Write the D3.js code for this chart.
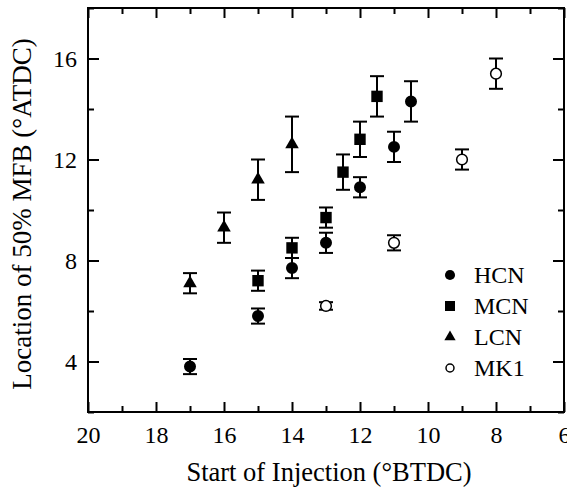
<!DOCTYPE html>
<html>
<head>
<meta charset="utf-8">
<script src="https://cdn.jsdelivr.net/npm/d3@7"></script>
<style>
  body { margin: 0; background: #fff; }
  text { font-family: "Liberation Serif", "Times New Roman", serif; fill: #000; }
</style>
</head>
<body>
<script>
// data: start of injection (°BTDC) vs 50% MFB location (°ATDC)
const hcnX = [17, 15, 14, 13, 12, 11, 10.5];
const hcnY = [3.8, 5.8, 7.7, 8.7, 10.9, 12.5, 14.3];
const hcnErr = [0.3, 0.3, 0.4, 0.4, 0.4, 0.6, 0.8];

const mcnX = [15, 14, 13, 12.5, 12, 11.5];
const mcnY = [7.2, 8.5, 9.7, 11.5, 12.8, 14.5];
const mcnErr = [0.4, 0.4, 0.4, 0.7, 0.7, 0.8];

const lcnX = [17, 16, 15, 14];
const lcnY = [7.1, 9.3, 11.2, 12.6];
const lcnErr = [0.4, 0.6, 0.8, 1.1];

const mk1X = [13, 11, 9, 8];
const mk1Y = [6.2, 8.7, 12.0, 15.4];
const mk1Err = [0.15, 0.3, 0.4, 0.6];

const seriesNames = ['HCN', 'MCN', 'LCN', 'MK1'];
const xMajor = [20, 18, 16, 14, 12, 10, 8, 6];
const xMinor = [19, 17, 15, 13, 11, 9, 7];
const yMajor = [4, 8, 12, 16];
const yMinor = [2, 6, 10, 14, 18];

const width = 567, height = 491;
const margin = { top: 8, right: 3, bottom: 79, left: 88 };

const svg = d3.select('body').append('svg')
  .attr('width', width).attr('height', height);

const x = d3.scaleLinear().domain([20, 6]).range([margin.left, width - margin.right]);
const y = d3.scaleLinear().domain([2, 18]).range([height - margin.bottom, margin.top]);

const x0 = x.range()[0], x1 = x.range()[1];
const y0 = y.range()[0], y1 = y.range()[1];

function styleAxis(g) {
  g.select('.domain').remove();
  g.selectAll('line').attr('stroke', '#000').attr('stroke-width', 2);
  g.selectAll('text').style('font-size', '24px').attr('fill', '#000');
}

// bottom
svg.append('g').attr('transform', `translate(0,${y0})`)
  .call(d3.axisBottom(x).tickValues(xMajor).tickSize(-10).tickPadding(14).tickFormat(d3.format('d')))
  .call(styleAxis);
svg.append('g').attr('transform', `translate(0,${y0})`)
  .call(d3.axisBottom(x).tickValues(xMinor).tickSize(-6).tickFormat(''))
  .call(styleAxis);
// top
svg.append('g').attr('transform', `translate(0,${y1})`)
  .call(d3.axisTop(x).tickValues(xMajor).tickSize(-10).tickFormat(''))
  .call(styleAxis);
svg.append('g').attr('transform', `translate(0,${y1})`)
  .call(d3.axisTop(x).tickValues(xMinor).tickSize(-6).tickFormat(''))
  .call(styleAxis);
// left
svg.append('g').attr('transform', `translate(${x0},0)`)
  .call(d3.axisLeft(y).tickValues(yMajor).tickSize(-11).tickPadding(11).tickFormat(d3.format('d')))
  .call(styleAxis);
svg.append('g').attr('transform', `translate(${x0},0)`)
  .call(d3.axisLeft(y).tickValues(yMinor).tickSize(-6).tickFormat(''))
  .call(styleAxis);
// right
svg.append('g').attr('transform', `translate(${x1},0)`)
  .call(d3.axisRight(y).tickValues(yMajor).tickSize(-11).tickFormat(''))
  .call(styleAxis);
svg.append('g').attr('transform', `translate(${x1},0)`)
  .call(d3.axisRight(y).tickValues(yMinor).tickSize(-6).tickFormat(''))
  .call(styleAxis);

// frame
svg.append('rect')
  .attr('x', x0).attr('y', y1)
  .attr('width', x1 - x0).attr('height', y0 - y1)
  .attr('fill', 'none').attr('stroke', '#000').attr('stroke-width', 2);

// axis titles
svg.append('text')
  .attr('x', 329).attr('y', 481)
  .attr('text-anchor', 'middle')
  .style('font-size', '26.5px')
  .text('Start of Injection (°BTDC)');

svg.append('text')
  .attr('transform', 'translate(31,214) rotate(-90)')
  .attr('text-anchor', 'middle')
  .style('font-size', '27px')
  .text('Location of 50% MFB (°ATDC)');

function zip(xs, ys, es) {
  return xs.map((d, i) => ({ x: d, y: ys[i], e: es[i] }));
}

const series = [
  { name: 'HCN', data: zip(hcnX, hcnY, hcnErr), type: d3.symbolCircle, size: 113, legendSize: 80, fill: '#000' },
  { name: 'MCN', data: zip(mcnX, mcnY, mcnErr), type: d3.symbolSquare, size: 130, legendSize: 100, fill: '#000' },
  { name: 'LCN', data: zip(lcnX, lcnY, lcnErr), type: d3.symbolTriangle, size: 80, legendSize: 55, fill: '#000' },
  { name: 'MK1', data: zip(mk1X, mk1Y, mk1Err), type: d3.symbolCircle, size: 90, legendSize: 50, fill: '#fff' },
];

const cap = 7;
series.forEach((s) => {
  const g = svg.append('g');
  const pts = g.selectAll('g').data(s.data).enter().append('g');
  // error bars
  pts.append('line')
    .attr('x1', (d) => x(d.x)).attr('x2', (d) => x(d.x))
    .attr('y1', (d) => y(d.y - d.e)).attr('y2', (d) => y(d.y + d.e))
    .attr('stroke', '#000').attr('stroke-width', 2);
  pts.append('line')
    .attr('x1', (d) => x(d.x) - cap).attr('x2', (d) => x(d.x) + cap)
    .attr('y1', (d) => y(d.y + d.e)).attr('y2', (d) => y(d.y + d.e))
    .attr('stroke', '#000').attr('stroke-width', 2);
  pts.append('line')
    .attr('x1', (d) => x(d.x) - cap).attr('x2', (d) => x(d.x) + cap)
    .attr('y1', (d) => y(d.y - d.e)).attr('y2', (d) => y(d.y - d.e))
    .attr('stroke', '#000').attr('stroke-width', 2);
  pts.append('path')
    .attr('d', d3.symbol().type(s.type).size(s.size))
    .attr('transform', (d) => `translate(${x(d.x)},${y(d.y)})`)
    .attr('fill', s.fill)
    .attr('stroke', '#000')
    .attr('stroke-width', s.fill === '#fff' ? 1.5 : 0);
});

// legend
const legend = svg.append('g').attr('transform', 'translate(450,275)');
series.forEach((s, i) => {
  const row = legend.append('g').attr('transform', `translate(0,${i * 31})`);
  row.append('path')
    .attr('d', d3.symbol().type(s.type).size(s.legendSize))
    .attr('fill', s.fill)
    .attr('stroke', '#000')
    .attr('stroke-width', s.fill === '#fff' ? 1.5 : 0);
  row.append('text')
    .attr('x', 24).attr('dy', '0.35em')
    .style('font-size', '24px')
    .text(s.name);
});
</script>
</body>
</html>
